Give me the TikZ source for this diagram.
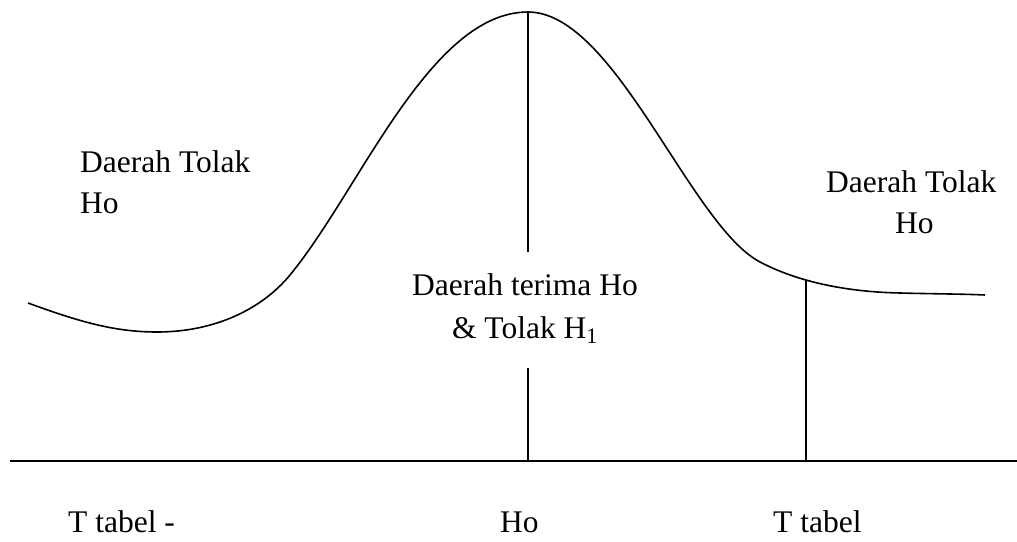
\documentclass[tikz,border=0pt]{standalone}
\usepackage{fontspec}
\setmainfont{Liberation Serif}
\begin{document}
\begin{tikzpicture}[x=1pt,y=-1pt,
  lbl/.style={font=\fontsize{31.5}{38}\selectfont, inner sep=0pt},
  ln/.style={line width=1.6pt}]
\useasboundingbox (0,0) rectangle (1017,541);
% axis
\coordinate (axL) at (10,461);
\coordinate (axR) at (1017,461);
\draw[ln] (axL) -- (axR);
% curve
\coordinate (s) at (28,303);
\coordinate (mn) at (157,332);
\coordinate (a) at (290,275);
\coordinate (pk) at (528,12);
\coordinate (b) at (760,262);
\coordinate (c) at (900,293);
\coordinate (e) at (985,295);
\draw[ln, line join=round] (s) .. controls (80,322) and (115,332) .. (mn)
  .. controls (215,332) and (262,309) .. (a)
  .. controls (360,190) and (430,12) .. (pk)
  .. controls (615,12) and (690,225) .. (b)
  .. controls (800,283) and (850,292) .. (c)
  .. controls (940,294) and (965,294) .. (e);
% centre line
\coordinate (c1) at (528,252);
\coordinate (c2) at (528,368);
\coordinate (c3) at (528,461);
\draw[ln] (pk) -- (c1);
\draw[ln] (c2) -- (c3);
% right line
\coordinate (r1) at (806,280);
\coordinate (r2) at (806,461);
\draw[ln] (r1) -- (r2);
% labels
\node[lbl, anchor=base west] (l1) at (80,172) {Daerah Tolak};
\node[lbl, anchor=base west] (l2) at (80,213) {Ho};
\node[lbl, anchor=base west] (r1t) at (826,192) {Daerah Tolak};
\node[lbl, anchor=base west] (r2t) at (895,233) {Ho};
\node[lbl, anchor=base] (m1) at (525,295) {Daerah terima Ho};
\node[lbl, anchor=base] (m2) at (525,338) {\& Tolak H\textsubscript{1}};
\node[lbl, anchor=base west] (b1) at (68,532) {T tabel -};
\node[lbl, anchor=base west] (b2) at (500,532) {Ho};
\node[lbl, anchor=base west] (b3) at (773,532) {T tabel};
\end{tikzpicture}
\end{document}
